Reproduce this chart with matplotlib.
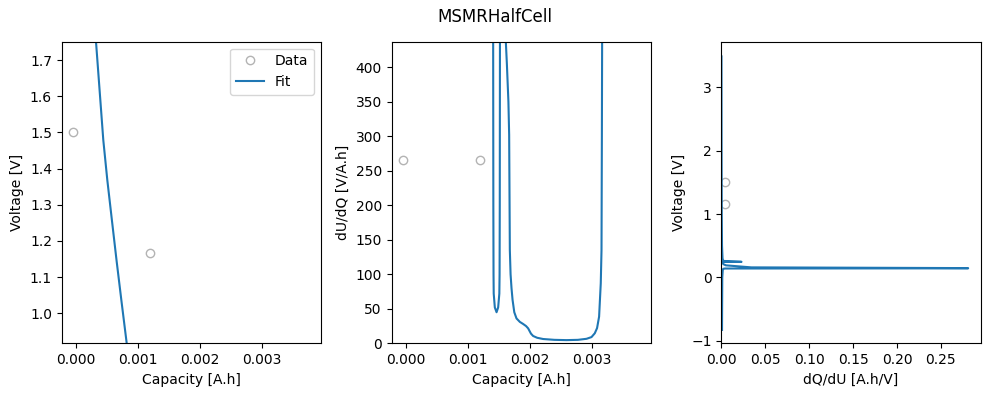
import matplotlib
matplotlib.use('Agg')
import matplotlib.pyplot as plt

# Measured data points
data_Q = [-0.00005, 0.0012]          # capacity [A.h]
data_U = [1.5, 1.1667]               # voltage [V]
data_dUdQ = [266.0, 266.0]           # [V/A.h]
data_dQdU = [0.00376, 0.00376]       # [A.h/V]

# Fit curve, voltage vs capacity
fit_Q = [0.000254, 0.000319, 0.000377, 0.000437, 0.000502, 0.000576,
         0.000654, 0.000733, 0.000816, 0.000865]
fit_U = [1.90, 1.7506, 1.6171, 1.479, 1.3684, 1.2579,
         1.1427, 1.0313, 0.9172, 0.85]

# Fit curve, dU/dQ vs capacity (middle panel)
fitd_Q = [0.001406, 0.001408, 0.001411, 0.001414, 0.001417, 0.001435, 0.001463,
          0.001489, 0.001508, 0.001512, 0.001515, 0.001518, 0.00152,
          0.001611, 0.001613, 0.00163, 0.001655, 0.001667, 0.001678, 0.00169,
          0.001705, 0.001722, 0.00175, 0.001786, 0.00184, 0.001893, 0.00194,
          0.001974, 0.00202, 0.002055, 0.00212, 0.002217, 0.0024, 0.002595,
          0.00278, 0.002919, 0.003, 0.003053, 0.00309, 0.003123, 0.00315,
          0.003162, 0.003168, 0.003172, 0.003174]
fitd_dUdQ = [1500, 437, 200, 100, 72, 52, 45,
             52, 72, 100, 200, 437, 1500,
             1500, 437, 405, 350, 302, 135, 100,
             80, 63, 45, 36, 31, 28, 25,
             21.7, 14, 10.6, 8, 6.2, 5.0, 4.6,
             5.0, 6.5, 9, 14.5, 22, 38.6, 87,
             135, 300, 437, 1500]

# Fit curve, voltage vs dQ/dU (right panel)
fiti_U = [3.49, 2.0, 1.0, 0.5, 0.3, 0.26, 0.2455, 0.2435, 0.23, 0.21,
          0.19, 0.158, 0.1465, 0.1425, 0.14, 0.135, 0.12, 0.0, -0.5, -0.83]
fiti_dQdU = [0.0, 0.0001, 0.0003, 0.0006, 0.0012, 0.002, 0.0228, 0.0022, 0.0015, 0.002,
             0.005, 0.034, 0.281, 0.281, 0.004, 0.002, 0.0015, 0.0009, 0.0007, 0.0006]

data_color = '0.7'
fit_color = 'tab:blue'

fig, axes = plt.subplots(1, 3, figsize=(9.89, 3.96), dpi=100)
fig.subplots_adjust(left=0.0624, right=0.9916, bottom=0.1331, top=0.8947, wspace=0.2727)
fig.suptitle('MSMRHalfCell')

# Voltage vs capacity
ax = axes[0]
ax.plot(data_Q, data_U, 'o', color=data_color, mfc='none', label='Data')
ax.plot(fit_Q, fit_U, '-', color=fit_color, label='Fit')
ax.set_xlim(-0.000236, 0.00396)
ax.set_ylim(0.917, 1.7506)
ax.set_xlabel('Capacity [A.h]')
ax.set_ylabel('Voltage [V]')
ax.legend(loc='upper right')

# Differential voltage
ax = axes[1]
ax.plot(data_Q, data_dUdQ, 'o', color=data_color, mfc='none')
ax.plot(fitd_Q, fitd_dUdQ, '-', color=fit_color)
ax.set_xlim(-0.000236, 0.00396)
ax.set_ylim(0, 437)
ax.set_xlabel('Capacity [A.h]')
ax.set_ylabel('dU/dQ [V/A.h]')

# Differential capacity
ax = axes[2]
ax.plot(data_dQdU, data_U, 'o', color=data_color, mfc='none')
ax.plot(fiti_dQdU, fiti_U, '-', color=fit_color)
ax.set_xlim(0, 0.2953)
ax.set_ylim(-1.041, 3.722)
ax.set_xlabel('dQ/dU [A.h/V]')
ax.set_ylabel('Voltage [V]')

fig.savefig('out.png', dpi=100)
